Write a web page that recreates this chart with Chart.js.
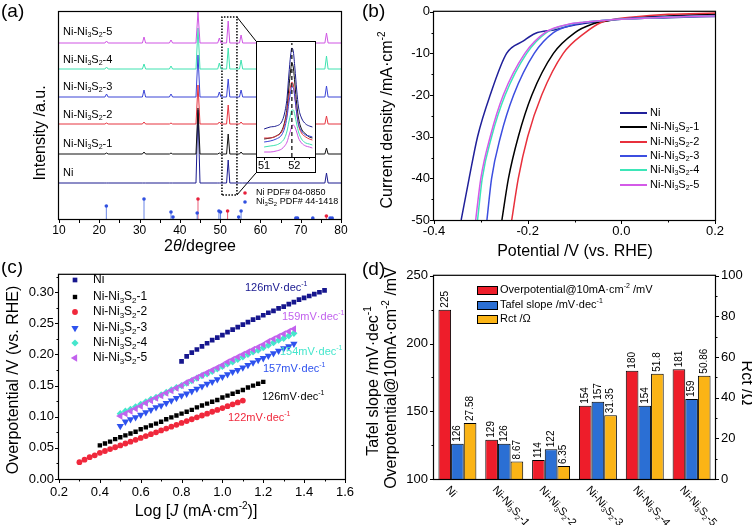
<!DOCTYPE html>
<html>
<head>
<meta charset="utf-8">
<title>Ni-Ni3S2 HER</title>
<script src="https://cdn.jsdelivr.net/npm/chart.js@4.4.1/dist/chart.umd.min.js"></script>
<style>
  body { margin: 0; background: #fff; }
  #fig { position: relative; width: 752px; height: 525px; overflow: hidden; background: #fff; }
  #fig canvas { position: absolute; }
</style>
</head>
<body>
<div id="fig">
  <canvas id="chartA" width="360" height="262" style="left:0;top:0"></canvas>
  <canvas id="chartInset" width="60" height="132" style="left:256px;top:41px"></canvas>
  <canvas id="chartB" width="392" height="262" style="left:360px;top:0"></canvas>
  <canvas id="chartC" width="360" height="263" style="left:0;top:262px"></canvas>
  <canvas id="chartD" width="392" height="263" style="left:360px;top:262px"></canvas>
</div>
<script>
const samples = ['Ni', 'Ni-Ni_{3}S_{2}-1', 'Ni-Ni_{3}S_{2}-2', 'Ni-Ni_{3}S_{2}-3', 'Ni-Ni_{3}S_{2}-4', 'Ni-Ni_{3}S_{2}-5'];

// (a) XRD patterns, stacked (a.u.)
const xrdAngle = [10, 21.4, 21.8, 22.2, 30.7, 31.1, 31.5, 37.4, 37.8, 38.2, 44.0, 44.5, 45.0, 49.4, 49.8, 50.2, 51.6, 52.0, 52.4, 54.8, 55.2, 55.6, 76.0, 76.4, 76.8, 80];
const xrdNi  = [36, 36, 36, 36, 36, 36, 36, 36, 36, 36, 36, 109, 36, 36, 36, 36, 36, 59, 36, 36, 36, 36, 36, 46, 36, 36];
const xrdNi1 = [65, 65, 66, 65, 65, 67, 65, 65, 66, 65, 65, 111, 65, 65, 66, 65, 65, 85, 65, 65, 67, 65, 65, 71, 65, 65];
const xrdNi2 = [95, 95, 96, 95, 95, 97, 95, 95, 96, 95, 95, 134, 95, 95, 97, 95, 95, 114, 95, 95, 97, 95, 95, 103, 95, 95];
const xrdNi3 = [122, 122, 125, 122, 122, 129, 122, 122, 125, 122, 122, 164, 122, 122, 127, 122, 122, 140, 122, 122, 129, 122, 122, 133, 122, 122];
const xrdNi4 = [150, 150, 152, 150, 150, 155, 150, 150, 153, 150, 150, 191, 150, 150, 156, 150, 150, 171, 150, 150, 159, 150, 150, 163, 150, 150];
const xrdNi5 = [176, 176, 178, 176, 176, 182, 176, 176, 179, 176, 176, 207, 176, 176, 181, 176, 176, 198, 176, 176, 184, 176, 176, 186, 176, 176];

// reference cards
const pdfNiAngle = [44.5, 51.85, 76.37];
const pdfNiHeight = [20, 8, 3];
const pdfNi3S2Angle = [21.75, 31.1, 37.8, 38.3, 44.3, 49.7, 50.1, 54.6, 55.2, 68.8, 69.2, 73.0, 77.3, 77.8];
const pdfNi3S2Height = [13, 20, 7, 2, 6, 8, 7, 2, 8, 1, 1, 1, 1, 1];

// zoom box + connectors to the inset (chart a units)
const zoomBoxAngle = [50.45, 54.17];
const zoomBoxHeight = [24, 202];
const insetEdgeAngle = 58.88;
const insetEdgeHeight = [46, 178];

// inset (51-52.7 deg)
const insetAngle = [51.0, 51.2, 51.4, 51.58, 51.68, 51.76, 51.82, 51.88, 51.92, 51.97, 52.02, 52.08, 52.14, 52.24, 52.38, 52.5, 52.6];
const insetNi  = [28, 30, 31, 35, 44, 59, 82, 102, 109, 105, 89, 67, 50, 39, 33, 31, 30];
const insetNi1 = [18, 19, 21, 26, 35, 49, 69, 87, 94, 89, 73, 53, 39, 28, 23, 20, 19];
const insetNi2 = [19, 19, 21, 25, 33, 45, 60, 71, 75, 72, 60, 44, 32, 24, 20, 18, 17];
const insetNi3 = [15, 16, 18, 22, 29, 40, 54, 65, 70, 69, 59, 44, 33, 26, 22, 21, 20];
const insetNi4 = [10, 11, 12, 15, 19, 26, 35, 43, 47, 47, 42, 33, 25, 18, 14, 13, 12];
const insetNi5 = [5, 5, 6, 8, 11, 15, 21, 27, 31, 32, 30, 25, 19, 14, 11, 10, 9];
const insetRefAngle = 51.92;

// (b) LSV: potential (V vs RHE) and current density (mA cm-2)
const lsvNiV  = [-0.342, -0.325, -0.307, -0.280, -0.245, -0.209, -0.184, -0.141, -0.110, -0.080, -0.040, 0.000, 0.100, 0.200];
const lsvNiJ  = [-50, -40, -30, -20, -10, -7, -5.2, -4.3, -3.4, -2.8, -2.2, -1.8, -1.4, -1.1];
const lsvNi1V = [-0.255, -0.241, -0.220, -0.191, -0.145, -0.099, -0.063, -0.030, 0.000, 0.100, 0.200];
const lsvNi1J = [-50, -40, -30, -20, -10, -5, -3, -2.2, -1.7, -1.0, -0.6];
const lsvNi2V = [-0.234, -0.220, -0.200, -0.170, -0.124, -0.077, -0.042, -0.015, 0.020, 0.100, 0.200];
const lsvNi2J = [-50, -40, -30, -20, -10, -5, -2.5, -1.8, -1.3, -0.6, -0.3];
const lsvNi3V = [-0.287, -0.277, -0.258, -0.230, -0.186, -0.145, -0.099, -0.070, -0.035, 0.000, 0.100, 0.200];
const lsvNi3J = [-50, -40, -30, -20, -10, -5, -3, -2.4, -2.0, -1.7, -1.2, -0.9];
const lsvNi4V = [-0.307, -0.297, -0.277, -0.248, -0.202, -0.160, -0.110, -0.080, -0.040, 0.000, 0.100, 0.200];
const lsvNi4J = [-50, -40, -30, -20, -10, -5, -3, -2.5, -2.1, -1.8, -1.3, -1.0];
const lsvNi5V = [-0.311, -0.300, -0.280, -0.252, -0.206, -0.163, -0.113, -0.080, -0.040, 0.000, 0.100, 0.200];
const lsvNi5J = [-50, -40, -30, -20, -10, -5, -3, -2.5, -2.1, -1.8, -1.3, -1.0];

// (c) Tafel: log J and overpotential (V)
const tafelNiX = [0.8, 0.825, 0.85, 0.875, 0.9, 0.925, 0.95, 0.975, 1.0, 1.025, 1.05, 1.075, 1.1, 1.125, 1.15, 1.175, 1.2, 1.225, 1.25, 1.275, 1.3, 1.325, 1.35, 1.375, 1.4, 1.425, 1.45, 1.475, 1.5];
const tafelNiY = [0.189, 0.197, 0.203, 0.208, 0.213, 0.218, 0.223, 0.227, 0.231, 0.236, 0.240, 0.244, 0.248, 0.252, 0.256, 0.259, 0.263, 0.267, 0.270, 0.274, 0.277, 0.281, 0.284, 0.288, 0.291, 0.294, 0.297, 0.300, 0.303];
const tafelNi1X = [0.4, 0.425, 0.45, 0.475, 0.5, 0.525, 0.55, 0.575, 0.6, 0.625, 0.65, 0.675, 0.7, 0.725, 0.75, 0.775, 0.8, 0.825, 0.85, 0.875, 0.9, 0.925, 0.95, 0.975, 1.0, 1.025, 1.05, 1.075, 1.1, 1.125, 1.15, 1.175, 1.2];
const tafelNi1Y = [0.054, 0.057, 0.060, 0.064, 0.067, 0.070, 0.073, 0.076, 0.080, 0.083, 0.086, 0.089, 0.092, 0.096, 0.099, 0.102, 0.105, 0.108, 0.111, 0.115, 0.118, 0.121, 0.124, 0.127, 0.131, 0.134, 0.137, 0.140, 0.143, 0.147, 0.150, 0.153, 0.156];
const tafelNi2X = [0.3, 0.325, 0.35, 0.375, 0.4, 0.425, 0.45, 0.475, 0.5, 0.525, 0.55, 0.575, 0.6, 0.625, 0.65, 0.675, 0.7, 0.725, 0.75, 0.775, 0.8, 0.825, 0.85, 0.875, 0.9, 0.925, 0.95, 0.975, 1.0, 1.025, 1.05, 1.075, 1.1];
const tafelNi2Y = [0.027, 0.031, 0.035, 0.038, 0.042, 0.045, 0.048, 0.051, 0.054, 0.057, 0.060, 0.063, 0.066, 0.069, 0.072, 0.075, 0.078, 0.081, 0.084, 0.087, 0.090, 0.093, 0.096, 0.099, 0.102, 0.105, 0.108, 0.111, 0.114, 0.117, 0.120, 0.123, 0.126];
const tafelHighX = [0.5, 0.525, 0.55, 0.575, 0.6, 0.625, 0.65, 0.675, 0.7, 0.725, 0.75, 0.775, 0.8, 0.825, 0.85, 0.875, 0.9, 0.925, 0.95, 0.975, 1.0, 1.025, 1.05, 1.075, 1.1, 1.125, 1.15, 1.175, 1.2, 1.225, 1.25, 1.275, 1.3, 1.325, 1.35];
const tafelNi3Y = [0.085, 0.092, 0.096, 0.099, 0.103, 0.107, 0.111, 0.115, 0.118, 0.122, 0.126, 0.130, 0.134, 0.137, 0.141, 0.145, 0.149, 0.153, 0.156, 0.160, 0.164, 0.168, 0.172, 0.175, 0.179, 0.183, 0.187, 0.191, 0.194, 0.198, 0.202, 0.206, 0.210, 0.213, 0.217];
const tafelNi4Y = [0.105, 0.109, 0.112, 0.116, 0.120, 0.124, 0.128, 0.131, 0.135, 0.139, 0.143, 0.147, 0.150, 0.154, 0.158, 0.162, 0.166, 0.169, 0.173, 0.177, 0.181, 0.185, 0.188, 0.192, 0.196, 0.200, 0.204, 0.207, 0.211, 0.215, 0.219, 0.223, 0.226, 0.230, 0.234];
const tafelNi5Y = [0.101, 0.105, 0.109, 0.113, 0.117, 0.122, 0.126, 0.130, 0.134, 0.138, 0.142, 0.146, 0.150, 0.155, 0.159, 0.163, 0.167, 0.171, 0.175, 0.179, 0.183, 0.188, 0.192, 0.196, 0.200, 0.204, 0.208, 0.212, 0.216, 0.221, 0.225, 0.229, 0.233, 0.237, 0.241];
const tafelSlopeText = ['126mV·dec^{-1}', '126mV·dec^{-1}', '122mV·dec^{-1}', '157mV·dec^{-1}', '154mV·dec^{-1}', '159mV·dec^{-1}'];

// (d) summary
const overpotential = [225, 129, 114, 154, 180, 181];
const tafelSlope = [126, 126, 122, 157, 154, 159];
const rct = [27.58, 8.67, 6.35, 31.35, 51.8, 50.86];
const barLegend = ['Overpotential@10mA·cm^{-2} /mV', 'Tafel slope /mV·dec^{-1}', 'Rct /Ω'];

const colorsA = ['#1b1b8f', '#111111', '#e6343f', '#3a44d6', '#3fe2b0', '#cf55e3'];
const colorsB = ['#20209a', '#000000', '#e8303c', '#3c4ee0', '#3de6b8', '#d45ae8'];
const colorsC = ['#16168e', '#000000', '#f0283c', '#2e52ee', '#45e6cc', '#c262ee'];
const markersC = [
  { style: 'rect', r: 3.3, rot: 0 }, { style: 'rect', r: 3.1, rot: 0 }, { style: 'circle', r: 2.9, rot: 0 },
  { style: 'triangle', r: 4.2, rot: 180 }, { style: 'rectRot', r: 3.6, rot: 0 }, { style: 'triangle', r: 4.2, rot: 270 }
];
const barColors = ['#ee1d2a', '#2b6fd4', '#fbb416'];

const FONT = '"Liberation Sans", Arial, Helvetica, sans-serif';
Chart.defaults.font.family = FONT;
Chart.defaults.color = '#000';
Chart.defaults.animation = false;
Chart.defaults.plugins.legend.display = false;
Chart.defaults.plugins.tooltip.enabled = false;

// ---- text helpers: _{sub} ^{sup} *italic* ----
function parseRich(s) {
  const out = [];
  let i = 0, italic = false, buf = '';
  const push = (t, mode) => { if (t) out.push({ t, mode, italic }); };
  while (i < s.length) {
    const c = s[i];
    if ((c === '_' || c === '^') && s[i + 1] === '{') {
      push(buf, 'n'); buf = '';
      const j = s.indexOf('}', i);
      push(s.slice(i + 2, j), c === '_' ? 'sub' : 'sup');
      i = j + 1;
      continue;
    }
    if (c === '*') { push(buf, 'n'); buf = ''; italic = !italic; i++; continue; }
    buf += c; i++;
  }
  push(buf, 'n');
  return out;
}

function drawRich(ctx, s, x, y, size, align, color) {
  const parts = parseRich(s);
  const font = p => (p.italic ? 'italic ' : '') + (p.mode === 'n' ? size : Math.round(size * 0.65)) + 'px ' + FONT;
  let w = 0;
  parts.forEach(p => { ctx.font = font(p); p.w = ctx.measureText(p.t).width; w += p.w; });
  let cx = align === 'center' ? x - w / 2 : align === 'right' ? x - w : x;
  ctx.save();
  ctx.fillStyle = color || '#000';
  ctx.textBaseline = 'middle';
  ctx.textAlign = 'left';
  parts.forEach(p => {
    ctx.font = font(p);
    const dy = p.mode === 'sub' ? size * 0.3 : p.mode === 'sup' ? -size * 0.35 : 0;
    ctx.fillText(p.t, cx, y + dy);
    cx += p.w;
  });
  ctx.restore();
}

function textAt(ctx, s, x, y, size, opts = {}) {
  ctx.save();
  ctx.translate(x, y);
  if (opts.rot) ctx.rotate(opts.rot);
  drawRich(ctx, s, 0, 0, size, opts.align || 'left', opts.color || '#000');
  ctx.restore();
}

function marker(ctx, m, x, y, color) {
  ctx.save();
  ctx.fillStyle = color;
  ctx.translate(x, y);
  ctx.rotate(m.rot * Math.PI / 180);
  ctx.beginPath();
  if (m.style === 'circle') ctx.arc(0, 0, m.r, 0, Math.PI * 2);
  else if (m.style === 'rect') { const h = m.r * Math.SQRT1_2; ctx.rect(-h, -h, 2 * h, 2 * h); }
  else if (m.style === 'rectRot') { ctx.moveTo(0, -m.r); ctx.lineTo(m.r, 0); ctx.lineTo(0, m.r); ctx.lineTo(-m.r, 0); ctx.closePath(); }
  else { for (let k = 0; k < 3; k++) { const a = k * 2 * Math.PI / 3; ctx.lineTo(Math.sin(a) * m.r, -Math.cos(a) * m.r); } ctx.closePath(); }
  ctx.fill();
  ctx.restore();
}

// ---- axis helpers ----
function fixSize(n) {
  return function (scale) {
    if (scale.isHorizontal()) scale.height = n; else scale.width = n;
  };
}
function axis(position, min, max, step, size, fontSize, padding, format) {
  return {
    type: 'linear', position, min, max,
    grid: { display: false, drawTicks: false },
    border: { display: false },
    ticks: { stepSize: step, includeBounds: false, autoSkip: false, maxRotation: 0, minRotation: 0,
             padding, color: '#000', font: { size: fontSize }, callback: format },
    afterFit: fixSize(size)
  };
}
function hiddenAxis(position, min, max, size) {
  return { type: 'linear', position, min, max, grid: { display: false, drawTicks: false },
           border: { display: false }, ticks: { display: false }, afterFit: fixSize(size) };
}
const fmt1 = v => (Math.abs(v) < 1e-9 ? 0 : v).toFixed(1);

function drawFrame(chart) {
  const { ctx, chartArea: a } = chart;
  ctx.save();
  ctx.strokeStyle = '#000';
  ctx.lineWidth = 1.2;
  ctx.strokeRect(a.left - 0.5, a.top - 0.5, a.right - a.left + 1, a.bottom - a.top + 1);
  ctx.restore();
}

function drawTicks(chart, specs) {
  const ctx = chart.ctx;
  ctx.save();
  ctx.strokeStyle = '#000';
  ctx.lineWidth = 1;
  specs.forEach(sp => {
    const s = chart.scales[sp.id];
    const start = Math.ceil(s.min / sp.step - 1e-6);
    ctx.beginPath();
    for (let k = start; k * sp.step <= s.max + 1e-9; k++) {
      const p = Math.round(s.getPixelForValue(k * sp.step)) + 0.5;
      if (s.isHorizontal()) { ctx.moveTo(p, s.top); ctx.lineTo(p, s.top + sp.len); }
      else if (s.position === 'left') { ctx.moveTo(s.right, p); ctx.lineTo(s.right - sp.len, p); }
      else { ctx.moveTo(s.left, p); ctx.lineTo(s.left + sp.len, p); }
    }
    ctx.stroke();
  });
  ctx.restore();
}

const points = (xs, ys) => xs.map((x, k) => ({ x, y: ys[k] }));

// ================= (a) XRD =================
const patterns = [xrdNi, xrdNi1, xrdNi2, xrdNi3, xrdNi4, xrdNi5];
const sticks = (xs, hs) => xs.flatMap((x, k) => [{ x, y: 0 }, { x, y: hs[k] }, { x, y: null }]);
const dsA = patterns.map((ys, i) => ({
  data: points(xrdAngle, ys), showLine: true, borderColor: colorsA[i], borderWidth: 1, pointRadius: 0, order: 5 - i
}));
dsA.push({ data: sticks(pdfNiAngle, pdfNiHeight), showLine: true, spanGaps: false, borderColor: '#e8607a', borderWidth: 1, pointRadius: 0, order: 12 });
dsA.push({ data: sticks(pdfNi3S2Angle, pdfNi3S2Height), showLine: true, spanGaps: false, borderColor: '#6a86e6', borderWidth: 1, pointRadius: 0, order: 11 });
dsA.push({ data: points(pdfNiAngle, pdfNiHeight), pointRadius: 1.8, pointBackgroundColor: '#e8203c', pointBorderWidth: 0, order: 10 });
dsA.push({ data: points(pdfNi3S2Angle, pdfNi3S2Height), pointRadius: 1.8, pointBackgroundColor: '#3050e0', pointBorderWidth: 0, order: 9 });
dsA.push({
  data: [
    { x: zoomBoxAngle[0], y: zoomBoxHeight[0] }, { x: zoomBoxAngle[0], y: zoomBoxHeight[1] },
    { x: zoomBoxAngle[1], y: zoomBoxHeight[1] }, { x: zoomBoxAngle[1], y: zoomBoxHeight[0] },
    { x: zoomBoxAngle[0], y: zoomBoxHeight[0] }
  ],
  showLine: true, borderColor: '#000', borderWidth: 1.5, borderDash: [1.5, 1.5], pointRadius: 0, order: 8
});
dsA.push({ data: [{ x: zoomBoxAngle[1], y: zoomBoxHeight[1] }, { x: insetEdgeAngle, y: insetEdgeHeight[1] }], showLine: true, borderColor: '#000', borderWidth: 1, pointRadius: 0, order: 8 });
dsA.push({ data: [{ x: zoomBoxAngle[1], y: zoomBoxHeight[0] }, { x: insetEdgeAngle, y: insetEdgeHeight[0] }], showLine: true, borderColor: '#000', borderWidth: 1, pointRadius: 0, order: 8 });

const decoA = {
  id: 'decoA',
  afterDraw(chart) {
    const ctx = chart.ctx;
    drawFrame(chart);
    drawTicks(chart, [{ id: 'x', step: 5, len: 4 }]);
    textAt(ctx, '(a)', 1, 12, 19);
    textAt(ctx, 'Intensity /a.u.', 41, 133, 16, { rot: -Math.PI / 2, align: 'center' });
    textAt(ctx, '2*θ*/degree', 200, 247, 16, { align: 'center' });
    const labelY = [173, 144, 115, 87, 60, 32];
    samples.forEach((s, i) => textAt(ctx, s, 63, labelY[i], 11));
    ctx.save();
    ctx.fillStyle = '#e8203c'; ctx.beginPath(); ctx.arc(245, 193, 1.8, 0, Math.PI * 2); ctx.fill();
    ctx.fillStyle = '#3050e0'; ctx.beginPath(); ctx.arc(245, 202, 1.8, 0, Math.PI * 2); ctx.fill();
    ctx.restore();
    textAt(ctx, 'Ni PDF# 04-0850', 256, 193, 9);
    textAt(ctx, 'Ni_{3}S_{2} PDF# 44-1418', 256, 202, 9);
  }
};

new Chart(document.getElementById('chartA'), {
  type: 'scatter',
  data: { datasets: dsA },
  options: {
    responsive: false,
    layout: { padding: { left: 0, top: 12, right: 19, bottom: 0 }, autoPadding: false },
    scales: {
      x: axis('bottom', 10, 80, 10, 43, 12, 4, v => String(v)),
      y: hiddenAxis('left', 0, 207, 59)
    }
  },
  plugins: [decoA]
});

// ---- inset ----
const insetSeries = [insetNi, insetNi1, insetNi2, insetNi3, insetNi4, insetNi5];
const dsInset = insetSeries.map((ys, i) => ({
  data: points(insetAngle, ys), showLine: true, borderColor: colorsA[i], borderWidth: 1, pointRadius: 0,
  cubicInterpolationMode: 'monotone', order: 5 - i
}));
dsInset.push({ data: [{ x: insetRefAngle, y: 0 }, { x: insetRefAngle, y: 114 }], showLine: true, borderColor: '#000', borderWidth: 1.2, borderDash: [4, 3], pointRadius: 0, order: -1 });

const decoInset = {
  id: 'decoInset',
  beforeDraw(chart) {
    const c = chart.ctx;
    c.save(); c.fillStyle = '#fff'; c.fillRect(0, 0, chart.width, chart.height); c.restore();
  },
  afterDraw(chart) {
    const { ctx, chartArea: a } = chart;
    ctx.save();
    ctx.strokeStyle = '#000'; ctx.lineWidth = 1;
    ctx.strokeRect(0.5, 0.5, chart.width - 1, chart.height - 1);
    ctx.beginPath(); ctx.moveTo(0, Math.round(a.bottom) + 0.5); ctx.lineTo(chart.width, Math.round(a.bottom) + 0.5); ctx.stroke();
    ctx.restore();
    drawTicks(chart, [{ id: 'x', step: 1, len: 3 }, { id: 'x', step: 0.5, len: 2 }]);
  }
};

new Chart(document.getElementById('chartInset'), {
  type: 'scatter',
  data: { datasets: dsInset },
  options: {
    responsive: false,
    layout: { padding: { left: 0, top: 2, right: 0, bottom: 0 }, autoPadding: false },
    scales: {
      x: axis('bottom', 50.85, 52.72, 1, 16, 11, 2, v => String(v)),
      y: { display: false, min: 0, max: 114 }
    }
  },
  plugins: [decoInset]
});

// ================= (b) LSV =================
const lsvV = [lsvNiV, lsvNi1V, lsvNi2V, lsvNi3V, lsvNi4V, lsvNi5V];
const lsvJ = [lsvNiJ, lsvNi1J, lsvNi2J, lsvNi3J, lsvNi4J, lsvNi5J];
const dsB = lsvV.map((vs, i) => ({
  data: points(vs, lsvJ[i]), showLine: true, borderColor: colorsB[i], borderWidth: 1.5, pointRadius: 0,
  cubicInterpolationMode: 'monotone', order: 5 - i
}));

const decoB = {
  id: 'decoB',
  afterDraw(chart) {
    const ctx = chart.ctx;
    drawFrame(chart);
    drawTicks(chart, [{ id: 'x', step: 0.2, len: 4 }, { id: 'x', step: 0.1, len: 2.5 }, { id: 'y', step: 10, len: 4 }, { id: 'y', step: 5, len: 2.5 }]);
    textAt(ctx, '(b)', 2, 12, 19);
    textAt(ctx, 'Current density /mA·cm^{-2}', 28, 120, 16, { rot: -Math.PI / 2, align: 'center' });
    textAt(ctx, 'Potential /V (vs. RHE)', 215, 252, 16, { align: 'center' });
    const rowY = [113, 127, 142, 156, 170, 185];
    samples.forEach((s, i) => {
      ctx.save();
      ctx.strokeStyle = colorsB[i]; ctx.lineWidth = 2;
      ctx.beginPath(); ctx.moveTo(260, rowY[i]); ctx.lineTo(287, rowY[i]); ctx.stroke();
      ctx.restore();
      textAt(ctx, s, 290, rowY[i], 11);
    });
  }
};

new Chart(document.getElementById('chartB'), {
  type: 'scatter',
  data: { datasets: dsB },
  options: {
    responsive: false,
    layout: { padding: { left: 0, top: 10, right: 37, bottom: 0 }, autoPadding: false },
    scales: {
      x: axis('bottom', -0.4, 0.2, 0.2, 42, 13, 4, fmt1),
      y: axis('left', -50, 0, 10, 74, 13, 4, v => String(v))
    }
  },
  plugins: [decoB]
});

// ================= (c) Tafel =================
const tafelX = [tafelNiX, tafelNi1X, tafelNi2X, tafelHighX, tafelHighX, tafelHighX];
const tafelY = [tafelNiY, tafelNi1Y, tafelNi2Y, tafelNi3Y, tafelNi4Y, tafelNi5Y];
const dsC = tafelX.map((xs, i) => ({
  data: points(xs, tafelY[i]),
  pointStyle: markersC[i].style, pointRadius: markersC[i].r, pointRotation: markersC[i].rot,
  pointBackgroundColor: colorsC[i], pointBorderColor: colorsC[i], pointBorderWidth: 0, order: 5 - i
}));

const decoC = {
  id: 'decoC',
  afterDraw(chart) {
    const ctx = chart.ctx;
    drawFrame(chart);
    drawTicks(chart, [{ id: 'x', step: 0.2, len: 4 }, { id: 'x', step: 0.1, len: 2.5 }, { id: 'y', step: 0.05, len: 4 }, { id: 'y', step: 0.025, len: 2.5 }]);
    textAt(ctx, '(c)', 1, 6, 19);
    textAt(ctx, 'Overpotential /V (vs. RHE)', 14, 118, 16, { rot: -Math.PI / 2, align: 'center' });
    textAt(ctx, 'Log [*J* (mA·cm^{-2})]', 196, 250, 16, { align: 'center' });
    const rowY = [18, 35, 50, 66, 81, 96];
    samples.forEach((s, i) => {
      marker(ctx, markersC[i], 75, rowY[i], colorsC[i]);
      textAt(ctx, s, 93, rowY[i], 12);
    });
    const slopePos = [[245, 26], [262, 135], [228, 156], [263, 107], [280, 90], [282, 55]];
    tafelSlopeText.forEach((t, i) => textAt(ctx, t, slopePos[i][0], slopePos[i][1], 11, { color: colorsC[i] }));
  }
};

new Chart(document.getElementById('chartC'), {
  type: 'scatter',
  data: { datasets: dsC },
  options: {
    responsive: false,
    layout: { padding: { left: 0, top: 6, right: 15, bottom: 0 }, autoPadding: false },
    scales: {
      x: axis('bottom', 0.2, 1.6, 0.2, 46, 13, 6, fmt1),
      y: axis('left', 0, 0.328, 0.05, 59, 13, 5, v => v.toFixed(2))
    }
  },
  plugins: [decoC]
});

// ================= (d) summary bars =================
const barValues = [overpotential, tafelSlope, rct];
const dsD = barValues.map((vals, i) => ({
  data: vals, backgroundColor: barColors[i], borderColor: '#000', borderWidth: 1,
  yAxisID: i === 2 ? 'y1' : 'y', categoryPercentage: 0.81, barPercentage: 1
}));

const decoD = {
  id: 'decoD',
  afterDraw(chart) {
    const { ctx, chartArea: a } = chart;
    drawFrame(chart);
    drawTicks(chart, [{ id: 'y', step: 50, len: 4 }, { id: 'y', step: 25, len: 2.5 }, { id: 'y1', step: 20, len: 4 }, { id: 'y1', step: 10, len: 2.5 }]);
    barValues.forEach((vals, i) => {
      chart.getDatasetMeta(i).data.forEach((bar, j) => {
        textAt(ctx, String(vals[j]), bar.x, bar.y - 2, 10, { rot: -Math.PI / 2 });
      });
    });
    samples.forEach((s, j) => {
      const x = chart.scales.x.getPixelForValue(j);
      textAt(ctx, s, x - 10, a.bottom + 9, 11, { rot: 48 * Math.PI / 180 });
    });
    const rowY = [28, 43, 57];
    barLegend.forEach((t, i) => {
      ctx.save();
      ctx.fillStyle = barColors[i];
      ctx.fillRect(117, rowY[i] - 4, 20, 8);
      ctx.strokeStyle = '#000'; ctx.lineWidth = 1;
      ctx.strokeRect(117.5, rowY[i] - 3.5, 20, 8);
      ctx.restore();
      textAt(ctx, t, 140, rowY[i], 11);
    });
    textAt(ctx, '(d)', 2, 8, 19);
    textAt(ctx, 'Tafel slope /mV·dec^{-1}', 14, 119, 16, { rot: -Math.PI / 2, align: 'center' });
    textAt(ctx, 'Overpotential@10mA·cm^{-2} /mV', 32, 116, 16, { rot: -Math.PI / 2, align: 'center' });
    textAt(ctx, 'Rct /Ω', 386, 121, 16, { rot: Math.PI / 2, align: 'center' });
  }
};

new Chart(document.getElementById('chartD'), {
  type: 'bar',
  data: { labels: samples, datasets: dsD },
  options: {
    responsive: false,
    layout: { padding: { left: 0, top: 8, right: 0, bottom: 0 }, autoPadding: false },
    scales: {
      x: { type: 'category', grid: { display: false, drawTicks: false }, border: { display: false }, ticks: { display: false }, afterFit: fixSize(46) },
      y: axis('left', 100, 250, 50, 74, 13, 6, v => String(v)),
      y1: axis('right', 0, 100, 20, 37, 13, 6, v => String(v))
    }
  },
  plugins: [decoD]
});
</script>
</body>
</html>
